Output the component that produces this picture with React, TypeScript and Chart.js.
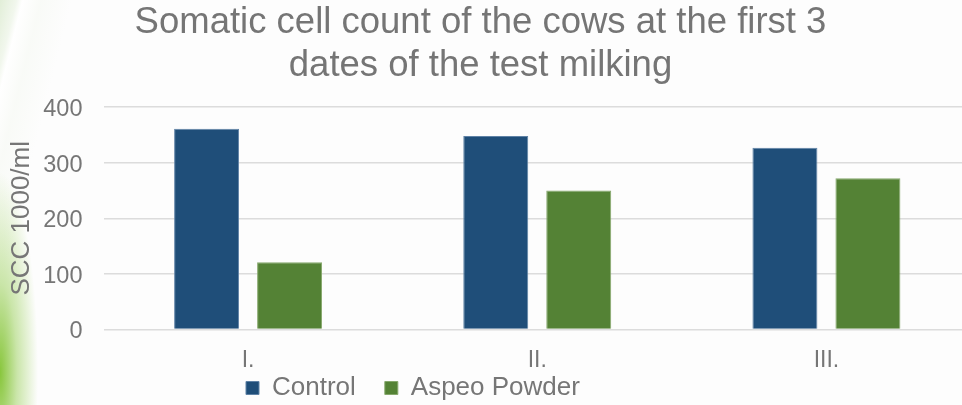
import React, { useEffect, useRef } from "react";
import { Chart, registerables } from "chart.js";

Chart.register(...registerables);

const categories = ["I.", "II.", "III."];
const controlValues = [361, 348, 327];
const aspeoValues = [121, 250, 272];
const seriesNames = ["Control", "Aspeo Powder"];
const titleLines = ["Somatic cell count of the cows at the first 3", "dates of the test milking"];
const yAxisTitle = "SCC 1000/ml";

const FONT = "'Liberation Sans', Arial, sans-serif";
const TEXT = "#767676";
const CANVAS_W = 971;
const CANVAS_H = 405;

const placeBoxes = {
  id: "placeBoxes",
  afterLayout(chart: any) {
    const lg = chart.legend;
    if (lg) {
      lg.left = 217;
      lg.right = CANVAS_W;
      lg.top = 346;
      lg.bottom = CANVAS_H;
      lg.width = lg.right - lg.left;
      lg.height = lg.bottom - lg.top;
    }
    const t = chart.titleBlock;
    if (t) {
      t.left -= 5;
      t.right -= 5;
    }
  },
};

export default function App() {
  const ref = useRef<HTMLCanvasElement | null>(null);

  useEffect(() => {
    if (!ref.current) return;
    const chart = new Chart(ref.current, {
      type: "bar",
      data: {
        labels: categories,
        datasets: [
          {
            label: seriesNames[0],
            data: controlValues,
            backgroundColor: "#1F4E79",
            borderColor: "#5f82a6",
            borderWidth: 1,
            categoryPercentage: 0.574,
            barPercentage: 0.783,
          },
          {
            label: seriesNames[1],
            data: aspeoValues,
            backgroundColor: "#548235",
            borderColor: "#86a86c",
            borderWidth: 1,
            categoryPercentage: 0.574,
            barPercentage: 0.783,
          },
        ],
      },
      options: {
        animation: false,
        responsive: false,
        devicePixelRatio: 1,
        layout: { padding: 0 },
        plugins: {
          title: {
            display: true,
            text: titleLines,
            color: "#757575",
            font: { family: FONT, size: 36.5, weight: "normal", lineHeight: 1.19 },
            padding: { top: 1, bottom: 19.2 },
          },
          legend: {
            display: true,
            position: "bottom",
            align: "start",
            maxHeight: 2,
            labels: {
              boxWidth: 13,
              boxHeight: 13,
              padding: 29,
              color: TEXT,
              font: { family: FONT, size: 26 },
            },
          },
          tooltip: { enabled: false },
        },
        scales: {
          x: {
            grid: { display: false, drawTicks: false },
            border: { display: false },
            ticks: {
              color: TEXT,
              font: { family: FONT, size: 23 },
              padding: 17,
            },
            afterFit: (s: any) => {
              const lh = s.chart.legend ? s.chart.legend.height : 0;
              s.height = Math.max(0, CANVAS_H - 329.5 - lh);
            },
          },
          y: {
            min: 0,
            max: 400,
            ticks: {
              stepSize: 100,
              color: TEXT,
              font: { family: FONT, size: 23.5 },
              padding: 21,
              labelOffset: 2.5,
            },
            grid: { color: "#dcdcdc", lineWidth: 1.5, drawTicks: false },
            border: { display: false },
            title: {
              display: true,
              text: yAxisTitle,
              color: TEXT,
              font: { family: FONT, size: 26 },
              padding: { top: 6, bottom: 0 },
            },
            afterFit: (s: any) => {
              s.width = 103.5;
            },
          },
        },
      },
      plugins: [placeBoxes],
    });
    return () => chart.destroy();
  }, []);

  return (
    <div
      style={{
        position: "fixed",
        left: 0,
        top: 0,
        width: 962,
        height: 405,
        overflow: "hidden",
        background:
          "radial-gradient(ellipse 38px 200px at 0% 92%, rgba(130,195,50,0.95) 0%, rgba(160,210,100,0.55) 45%, rgba(255,255,255,0) 100%)," +
          "linear-gradient(104deg, rgba(214,232,200,0.7) 0px, rgba(232,242,224,0.55) 16px, rgba(255,255,255,0.9) 22px, rgba(246,249,243,0.6) 40px, rgba(255,255,255,0) 70px)," +
          "#fdfdfd",
      }}
    >
      <canvas ref={ref} width={CANVAS_W} height={CANVAS_H} style={{ display: "block", width: CANVAS_W, height: CANVAS_H }} />
    </div>
  );
}
